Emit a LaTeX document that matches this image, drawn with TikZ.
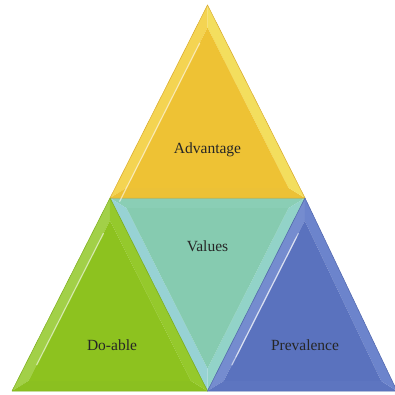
\documentclass[tikz,border=0pt]{standalone}
\usepackage{fontspec}
\setmainfont{Liberation Serif}
\usetikzlibrary{calc}

% body and bevel colours
\definecolor{ybody}{HTML}{EEC234}
\definecolor{yleft}{HTML}{F4D452}
\definecolor{yright}{HTML}{F3DE5E}
\definecolor{ybot}{HTML}{ECC136}
\definecolor{yline}{HTML}{D8AA2C}
\definecolor{gbody}{HTML}{8DC21F}
\definecolor{gleft}{HTML}{A2D048}
\definecolor{gright}{HTML}{95C92C}
\definecolor{gbot}{HTML}{8BC020}
\definecolor{gline}{HTML}{7CAE1A}
\definecolor{tbody}{HTML}{86CBB0}
\definecolor{ttop}{HTML}{8ACEB5}
\definecolor{tleft}{HTML}{97D2D4}
\definecolor{tright}{HTML}{92D3C8}
\definecolor{tline}{HTML}{7CBFA6}
\definecolor{bbody}{HTML}{5A72BE}
\definecolor{bleft}{HTML}{758CCF}
\definecolor{bright}{HTML}{6C84CC}
\definecolor{bbot}{HTML}{5D75C0}
\definecolor{bline}{HTML}{4E64AC}

\tikzset{
  label/.style={font=\fontsize{15.5}{18}\selectfont, text=black!85, inner sep=0pt},
  shine/.style={white, opacity=0.55, line width=1.2pt, line cap=round}
}

% bevelled triangle: vertices #1 #2 #3, incentre #4, body #5,
% bands on edges 1-2, 2-3, 3-1 in #6 #7 #8, outline #9
\newcommand\bevtri[9]{%
  \coordinate (#1i) at ($(#4)!0.83!(#1)$);
  \coordinate (#2i) at ($(#4)!0.83!(#2)$);
  \coordinate (#3i) at ($(#4)!0.83!(#3)$);
  \fill[#6] (#1) -- (#2) -- (#2i) -- (#1i) -- cycle;
  \fill[#7] (#2) -- (#3) -- (#3i) -- (#2i) -- cycle;
  \fill[#8] (#3) -- (#1) -- (#1i) -- (#3i) -- cycle;
  \fill[#5] (#1i) -- (#2i) -- (#3i) -- cycle;
  \draw[#9, line width=0.5pt, line join=round] (#1) -- (#2) -- (#3) -- cycle;
}

\begin{document}
\begin{tikzpicture}[x=1pt, y=-1pt]
\useasboundingbox (0,0) rectangle (395,395);
\clip (0,0) rectangle (395,395);

\coordinate (P1) at (207.5,5);
\coordinate (P2) at (110,198);
\coordinate (P3) at (305,198);
\coordinate (P4) at (12,391);
\coordinate (P5) at (207.5,391);
\coordinate (P6) at (397,391);

% incentres
\coordinate (Ctop) at (207.5,138);
\coordinate (Cmid) at (207.5,258);
\coordinate (Clft) at (109.5,331);
\coordinate (Crgt) at (303.5,332);

% middle inverted triangle: P2 -> P3 top edge, P3 -> P5 right, P5 -> P2 left
\bevtri{P2}{P3}{P5}{Cmid}{tbody}{ttop}{tright}{tleft}{tline}
% top triangle: P1 -> P2 left, P2 -> P3 bottom, P3 -> P1 right
\bevtri{P1}{P2}{P3}{Ctop}{ybody}{yleft}{ybot}{yright}{yline}
% left triangle
\bevtri{P2}{P4}{P5}{Clft}{gbody}{gleft}{gbot}{gright}{gline}
% right triangle
\bevtri{P3}{P5}{P6}{Crgt}{bbody}{bleft}{bbot}{bright}{bline}

% light streaks along the inner left edges
\draw[shine] ($(P1i)!0.08!(P2i)$) -- ($(P1i)!0.9!(P2i)$);
\draw[shine] ($(P2i)!0.08!(P4i)$) -- ($(P2i)!0.9!(P4i)$);
\draw[shine] ($(P3i)!0.08!(P5i)$) -- ($(P3i)!0.9!(P5i)$);
\draw[shine, opacity=0.4] ($(P3i)!0.1!(P5i)$) -- ($(P3i)!0.85!(P5i)$);

\node[label] (adv) at (207.5,150) {Advantage};
\node[label] (val) at (207.5,246) {Values};
\node[label] (doa) at (112,345) {Do-able};
\node[label] (pre) at (305,345) {Prevalence};
\end{tikzpicture}
\end{document}
